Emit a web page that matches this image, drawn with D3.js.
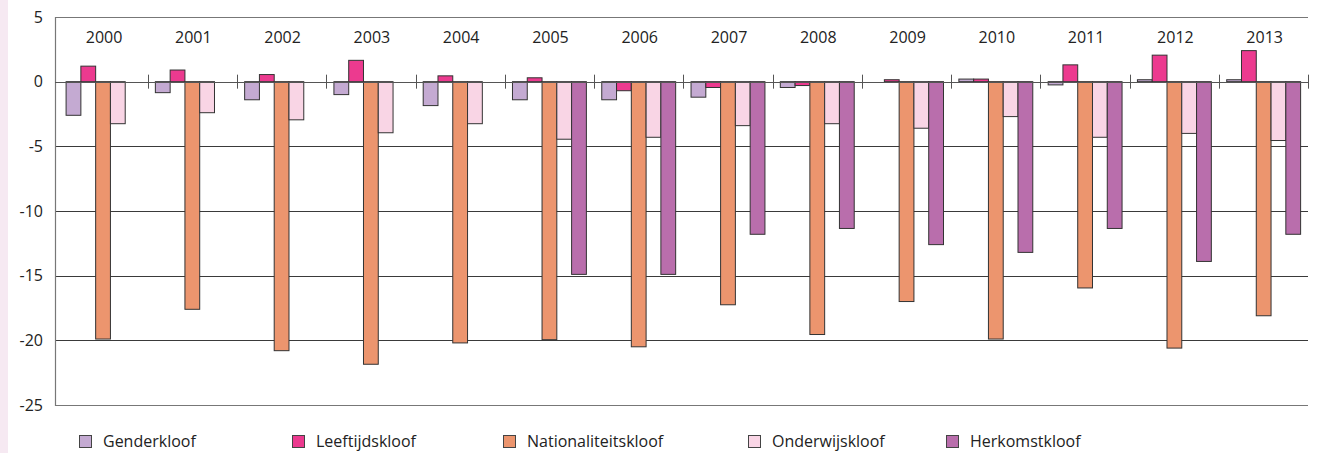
<!DOCTYPE html>
<html>
<head>
<meta charset="utf-8">
<script src="https://cdn.jsdelivr.net/npm/d3@7"></script>
<style>
  html, body { margin: 0; padding: 0; background: #ffffff; }
  svg { display: block; font-family: "Open Sans", "Noto Sans", sans-serif; }
</style>
</head>
<body>
<svg id="chart" width="1317" height="453"></svg>
<script>
// ---- data ----
const years = ["2000","2001","2002","2003","2004","2005","2006","2007","2008","2009","2010","2011","2012","2013"];
const seriesNames = ["Genderkloof","Leeftijdskloof","Nationaliteitskloof","Onderwijskloof","Herkomstkloof"];
const genderkloof        = [-2.6, -0.85, -1.4, -1.0, -1.85, -1.4, -1.4, -1.2, -0.45, 0, 0.2, -0.25, 0.15, 0.15];
const leeftijdskloof     = [1.2, 0.9, 0.55, 1.65, 0.45, 0.3, -0.7, -0.45, -0.3, 0.15, 0.2, 1.3, 2.05, 2.4];
const nationaliteitskloof= [-19.9, -17.6, -20.8, -21.85, -20.2, -19.95, -20.5, -17.25, -19.55, -17.0, -19.9, -15.95, -20.6, -18.1];
const onderwijskloof     = [-3.25, -2.4, -2.95, -3.95, -3.25, -4.45, -4.3, -3.4, -3.25, -3.6, -2.7, -4.3, -4.0, -4.55];
const herkomstkloof      = [null, null, null, null, null, -14.9, -14.9, -11.8, -11.35, -12.6, -13.2, -11.35, -13.9, -11.8];
const yTicks = [5, 0, -5, -10, -15, -20, -25];
const colors = ["#c4aad2", "#ec3a8f", "#ec956e", "#f9d5e5", "#b96eac"];

const seriesValues = [genderkloof, leeftijdskloof, nationaliteitskloof, onderwijskloof, herkomstkloof];

// ---- layout ----
const svg = d3.select("#chart");
const plotLeft = 55, plotRight = 1308, plotTop = 17, plotBottom = 405;

svg.append("rect").attr("x", 0).attr("y", 0).attr("width", 8).attr("height", 453).attr("fill", "#f6e9f2");

const y = d3.scaleLinear().domain([-25, 5]).range([plotBottom, plotTop]);
const x0 = d3.scaleBand().domain(years).range([58.4, 1308.3]).paddingInner(0).paddingOuter(0);
const x1 = d3.scaleBand().domain(seriesNames).range([0, x0.bandwidth()]).paddingInner(0).paddingOuter(0.52);

// gridlines
const grid = svg.append("g");
grid.selectAll("line").data(yTicks).enter().append("line")
  .attr("x1", plotLeft).attr("x2", plotRight)
  .attr("y1", d => Math.round(y(d)) + 0.5).attr("y2", d => Math.round(y(d)) + 0.5)
  .attr("stroke", d => (d === 5 || d === -25) ? "#777" : "#3a3a3a")
  .attr("stroke-width", 1);

// left axis line
svg.append("line")
  .attr("x1", plotLeft + 0.5).attr("x2", plotLeft + 0.5)
  .attr("y1", plotTop).attr("y2", plotBottom + 1)
  .attr("stroke", "#777").attr("stroke-width", 1.2);

// y tick labels via axis (hyphen-minus as in the original)
const yAxis = d3.axisLeft(y).tickValues(yTicks).tickSize(0).tickPadding(0).tickFormat(d => String(d));
const yg = svg.append("g").attr("transform", `translate(${43},0)`).call(yAxis);
yg.select(".domain").remove();
yg.selectAll("text").attr("font-size", 16).attr("fill", "#222").attr("font-family", "\"Open Sans\", sans-serif");

// bars
const data = [];
years.forEach((yr, i) => {
  seriesNames.forEach((s, j) => {
    const v = seriesValues[j][i];
    if (v !== null && v !== undefined) data.push({year: yr, series: s, idx: j, value: v});
  });
});

svg.append("g").selectAll("rect").data(data).enter().append("rect")
  .attr("x", d => x0(d.year) + x1(d.series))
  .attr("width", x1.bandwidth())
  .attr("y", d => Math.min(y(0), y(d.value)))
  .attr("height", d => Math.abs(y(d.value) - y(0)))
  .attr("fill", d => colors[d.idx])
  .attr("stroke", "#333")
  .attr("stroke-width", 1);

// zero line over bars
svg.append("line")
  .attr("x1", plotLeft).attr("x2", plotRight)
  .attr("y1", Math.round(y(0)) + 0.5).attr("y2", Math.round(y(0)) + 0.5)
  .attr("stroke", "#555").attr("stroke-width", 1);

// category ticks at zero line
const boundaries = years.slice(1).map(yr => x0(yr)).concat([x0.range()[1]]);
svg.append("g").selectAll("line").data(boundaries).enter().append("line")
  .attr("x1", d => Math.round(d) + 0.5).attr("x2", d => Math.round(d) + 0.5)
  .attr("y1", y(0) - 7).attr("y2", y(0) + 7)
  .attr("stroke", "#555").attr("stroke-width", 1);

// year labels
svg.append("g").selectAll("text").data(years).enter().append("text")
  .attr("x", d => x0(d) + x0.bandwidth() / 2 + 1)
  .attr("y", 37)
  .attr("dy", "0.35em")
  .attr("text-anchor", "middle")
  .attr("font-size", 16)
  .attr("fill", "#222")
  .text(d => d);

// legend
const legendX = [79, 292, 503, 748, 946];
const lg = svg.append("g");
seriesNames.forEach((s, j) => {
  lg.append("rect")
    .attr("x", legendX[j] + 0.5).attr("y", 435.5)
    .attr("width", 12).attr("height", 12)
    .attr("fill", colors[j]).attr("stroke", "#444").attr("stroke-width", 1);
  lg.append("text")
    .attr("x", legendX[j] + 24).attr("y", 441.5)
    .attr("dy", "0.35em")
    .attr("font-size", 16)
    .attr("fill", "#222")
    .text(s);
});
</script>
</body>
</html>
